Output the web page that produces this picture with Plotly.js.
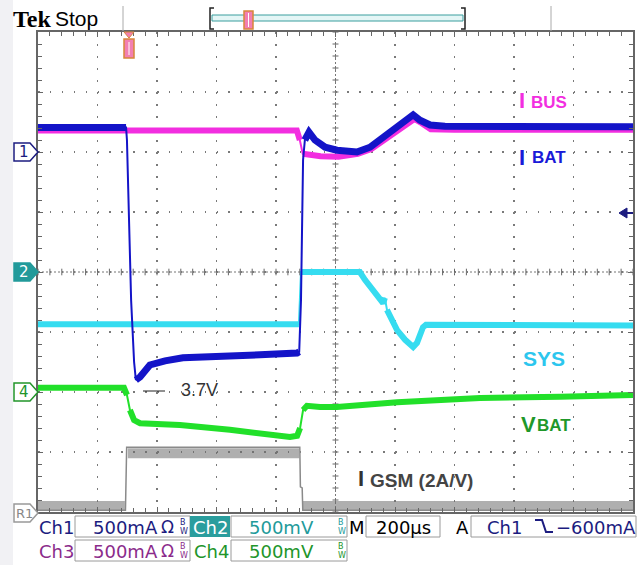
<!DOCTYPE html>
<html><head><meta charset="utf-8">
<script src="https://cdn.plot.ly/plotly-3.0.1.min.js"></script>
<style>html,body{margin:0;padding:0;background:#fff;} #chart{width:643px;height:565px;}</style>
</head><body><div id="chart"></div>
<script>
// ---- data: time in µs (200 µs/div), value in screen divisions ----
const tIbus = [0, 870, 880, 890, 950, 1010, 1075, 1120, 1185, 1240, 1265, 1290, 1320, 1400, 2000];
const ibus  = [2.36, 2.36, 2.2, 1.97, 1.93, 1.92, 1.97, 2.05, 2.28, 2.48, 2.55, 2.48, 2.38, 2.37, 2.37];

const tIbat = [0, 296, 299, 306, 313, 323, 329, 343, 376, 427, 487, 578, 655, 746, 871, 878, 884, 891, 897, 911, 931, 965, 1005, 1072, 1116, 1183, 1234, 1261, 1284, 1318, 1368, 2000];
const ibat  = [2.41, 2.41, 2.2, 0.6, -0.47, -1.5, -1.8, -1.75, -1.55, -1.48, -1.43, -1.42, -1.40, -1.38, -1.35, -1.33, -0.47, 1.87, 2.2, 2.33, 2.2, 2.08, 2.03, 2.0, 2.08, 2.33, 2.53, 2.62, 2.53, 2.45, 2.43, 2.42];

const tSys = [0, 877, 884, 1082, 1099, 1150, 1160, 1166, 1173, 1207, 1234, 1261, 1274, 1294, 1304, 2000];
const sys  = [-0.87, -0.87, 0.0, 0.0, -0.13, -0.47, -0.52, -0.43, -0.63, -0.97, -1.13, -1.25, -1.18, -0.92, -0.88, -0.89];

const tVbat = [0, 289, 299, 309, 323, 343, 477, 645, 746, 847, 871, 881, 891, 904, 948, 1005, 1207, 1486, 1755, 2000];
const vbat  = [-1.93, -1.93, -2.05, -2.3, -2.47, -2.52, -2.55, -2.63, -2.68, -2.75, -2.73, -2.6, -2.3, -2.23, -2.25, -2.25, -2.17, -2.1, -2.08, -2.05];

const tGsm = [0, 294, 298, 880, 882, 888, 890, 2000];
const gsm  = [-3.97, -3.97, -2.92, -2.92, -3.58, -3.6, -3.97, -3.97];
const tGsmNoise = [0, 292, null, 302, 878, null, 890, 2000];
const gsmNoise  = [-3.9, -3.9, null, -3.02, -3.02, null, -3.9, -3.9];

const statusRow1 = ["Ch1", "500mA", "Ch2", "500mV", "M", "200µs", "A", "Ch1", "−600mA"];
const statusRow2 = ["Ch3", "500mA", "Ch4", "500mV"];

// ---- geometry helpers ----
const W=643, H=565, L=38, T=32, PW=595, PH=480;
const fx = p => (p-L)/PW, fy = p => (T+PH-p)/PH;

function band(t, y){
  const bx=[], by=[];
  for(let i=0;i<t.length;i++){
    if(i>0){
      const dxp=(t[i]-t[i-1])/2000*PW, dyp=Math.abs(y[i]-y[i-1])*60;
      if(dyp > 2.5*dxp+4){ bx.push(null); by.push(null); }
    }
    bx.push(t[i]); by.push(y[i]);
  }
  return [bx, by];
}
function chan(t, y, color, bw){
  const [bx, by] = band(t, y);
  return [
    {x:bx, y:by, mode:'lines', line:{color:color, width:bw}, connectgaps:false, hoverinfo:'skip', showlegend:false},
    {x:t, y:y, mode:'lines', line:{color:color, width:2}, hoverinfo:'skip', showlegend:false}
  ];
}

const cMag='#f22ee0', cBlue='#1414c8', cCyan='#36dcf0', cGreen='#22e02a', cGray='#8a8a8a';

const traces = [
  {x:tGsmNoise, y:gsmNoise, mode:'lines', line:{color:'rgba(110,110,110,0.55)', width:10}, connectgaps:false, hoverinfo:'skip', showlegend:false},
  {x:tGsm, y:gsm, mode:'lines', line:{color:cGray, width:1.5}, hoverinfo:'skip', showlegend:false},
  ...chan(tVbat, vbat, cGreen, 6),
  ...chan(tSys, sys, cCyan, 6),
  ...chan(tIbus, ibus, cMag, 6),
  ...chan(tIbat, ibat, cBlue, 7)
];

// ---- shapes ----
const shapes = [];
const P = pts => 'M ' + pts.map(p => fx(p[0])+','+fy(p[1])).join(' L ') ;
function pshape(pts, fill, line, lw, close){
  shapes.push({type:'path', xref:'paper', yref:'paper', path:P(pts)+(close?' Z':''),
    fillcolor: fill||'rgba(0,0,0,0)', line:{color:line||'rgba(0,0,0,0)', width:lw||1}, layer:'above'});
}
function rect(x0,y0,x1,y1,fill,line,lw,layer){
  shapes.push({type:'rect', xref:'paper', yref:'paper', x0:fx(x0), x1:fx(x1), y0:fy(y1), y1:fy(y0),
    fillcolor:fill, line:{color:line||'rgba(0,0,0,0)', width:lw||0}, layer:layer||'above'});
}
// left grey strip
rect(0,0,13,565,'#f1f1f4',null,0,'below');
// center lines
shapes.push({type:'line', xref:'paper', yref:'y', x0:0, x1:1, y0:0, y1:0, line:{color:'#777', width:1, dash:'2px,2px'}, layer:'below'});
shapes.push({type:'line', xref:'x', yref:'paper', x0:1000, x1:1000, y0:0, y1:1, line:{color:'#777', width:1, dash:'2px,2px'}, layer:'below'});
for(let i=0;i<=50;i++){
  shapes.push({type:'line', xref:'x', yref:'y', x0:i*40, x1:i*40, y0:-0.055, y1:0.055, line:{color:'#666', width:1}, layer:'below'});
}
for(let j=0;j<=40;j++){
  const yy=-4+j*0.2;
  shapes.push({type:'line', xref:'x', yref:'y', x0:990, x1:1010, y0:yy, y1:yy, line:{color:'#666', width:1}, layer:'below'});
}
// channel markers
function marker(cy, fill, line){
  pshape([[14,cy-9],[30,cy-9],[38,cy],[30,cy+9],[14,cy+9]], fill, line, 1.5, true);
}
marker(152, '#ffffff', '#1c1c80');
marker(272, '#229a9a', '#229a9a');
marker(392, '#ffffff', '#22952a');
marker(513, '#ffffff', '#999999');
// trigger level arrow (right)
pshape([[619,213],[627,208],[627,218]], '#1c1c80', '#1c1c80', 1, true);
shapes.push({type:'line', xref:'paper', yref:'paper', x0:fx(626), x1:fx(633), y0:fy(213), y1:fy(213), line:{color:'#1c1c80', width:2}});
// top record bar
shapes.push({type:'line', xref:'paper', yref:'paper', x0:fx(123), x1:fx(123), y0:fy(31), y1:fy(6), line:{color:'#aaa', width:1}});
shapes.push({type:'line', xref:'paper', yref:'paper', x0:fx(551), x1:fx(551), y0:fy(31), y1:fy(6), line:{color:'#aaa', width:1}});
rect(212,15,463,21,'#e4f6f6','#3a9e9e',1);
pshape([[214,8],[210,8],[210,29],[214,29]], null, '#222', 1.5, false);
pshape([[461,8],[465,8],[465,29],[461,29]], null, '#222', 1.5, false);
rect(244,11,253,29,'#f27fb2','#d8873a',1.5);
shapes.push({type:'line', xref:'paper', yref:'paper', x0:fx(248.5), x1:fx(248.5), y0:fy(13), y1:fy(27), line:{color:'#ffffff', width:1}});
// trigger position marker on screen
pshape([[124,32],[134,32],[129,38]], '#f27fb2', '#d8873a', 1, true);
rect(124,39,134,58,'#f27fb2','#d8873a',1.5);
shapes.push({type:'line', xref:'paper', yref:'paper', x0:fx(129), x1:fx(129), y0:fy(42), y1:fy(55), line:{color:'#ffffff', width:1}});
// 3.7V dash
shapes.push({type:'line', xref:'paper', yref:'paper', x0:fx(143), x1:fx(165), y0:fy(391), y1:fy(391), line:{color:'#222', width:1}});
// status bar boxes
const bc='#9a9a9a';
rect(75,516,190,537,'#fff',bc,1);
rect(190,516,230,537,'#2a9d9d',null,0);
rect(231,516,347,537,'#fff',bc,1);
rect(366,516,440,537,'#fff',bc,1);
rect(471,516,636,537,'#fff',bc,1);
rect(75,540,190,561,'#fff',bc,1);
rect(231,540,347,561,'#fff',bc,1);
// falling-edge trigger symbol
pshape([[535,520],[542,520],[546,532],[553,532]], null, '#1c1c80', 2, false);

// ---- annotations ----
function A(text, x, y, size, color, fam, extra){
  return Object.assign({text:text, xref:'paper', yref:'paper', x:fx(x), y:fy(y), xanchor:'center', yanchor:'middle',
    showarrow:false, font:{family:fam||'Liberation Sans', size:size, color:color}}, extra||{});
}
const DV='DejaVu Sans';
const ann = [
  A('<b>Tek</b>', 32, 19, 24, '#000', 'Liberation Serif'),
  A('Stop', 76, 18, 21, '#000', 'Liberation Sans'),
  A('1', 24, 152, 15, '#1c1c80', DV),
  A('2', 24, 272, 15, '#ffffff', DV),
  A('4', 24, 392, 15, '#22952a', DV),
  A('R1', 24, 513, 13, '#888', DV),
  A('<b>I</b>', 521.5, 100, 22, cMag),
  A('<b>BUS</b>', 549, 102, 17, cMag),
  A('<b>I</b>', 522, 157, 22, '#1a1ad8'),
  A('<b>BAT</b>', 549, 158, 17, '#1a1ad8'),
  A('<b>SYS</b>', 544, 358, 21, '#2cc6ee'),
  A('<b>V</b>', 528.5, 424, 22, '#1f982a'),
  A('<b>BAT</b>', 554, 425, 17, '#1f982a'),
  A('<b>I</b>', 360.5, 478, 22, '#333'),
  A('<b>GSM (2A/V)</b>', 421, 480, 19, '#444'),
  A('3.7V', 199, 390, 18, '#333'),
  // status row 1
  A(statusRow1[0], 56, 527, 18, '#1c1c80', DV),
  A(statusRow1[1], 125, 527, 18, '#1c1c80', DV),
  A('Ω', 167, 527, 17, '#1c1c80', DV),
  A('B', 183, 522, 8, '#1c1c80', DV), A('W', 184, 531, 8, '#1c1c80', DV),
  A(statusRow1[2], 210, 527, 18, '#ffffff', DV),
  A(statusRow1[3], 281, 527, 18, '#229a9a', DV),
  A('B', 341, 522, 8, '#229a9a', DV), A('W', 342, 531, 8, '#229a9a', DV),
  A(statusRow1[4], 357, 527, 18, '#000', DV),
  A(statusRow1[5], 403, 527, 18, '#000', DV),
  A(statusRow1[6], 462, 527, 18, '#000', DV),
  A(statusRow1[7], 504, 527, 18, '#1c1c80', DV),
  A(statusRow1[8], 596, 527, 18, '#1c1c80', DV),
  // status row 2
  A(statusRow2[0], 56, 551, 18, '#8b2b8b', DV),
  A(statusRow2[1], 125, 551, 18, '#8b2b8b', DV),
  A('Ω', 167, 551, 17, '#8b2b8b', DV),
  A('B', 183, 546, 8, '#8b2b8b', DV), A('W', 184, 555, 8, '#8b2b8b', DV),
  A(statusRow2[2], 211, 551, 18, '#22952a', DV),
  A(statusRow2[3], 281, 551, 18, '#22952a', DV),
  A('B', 341, 546, 8, '#22952a', DV), A('W', 342, 555, 8, '#22952a', DV)
];

const axBase = {showticklabels:false, ticks:'inside', ticklen:5, tickcolor:'#666', tickwidth:1,
  showline:true, linecolor:'#666', linewidth:2, mirror:'ticks', showgrid:true, gridcolor:'#7a7a7a',
  gridwidth:1.5, zeroline:false, fixedrange:true};
const layout = {
  width:W, height:H, autosize:false,
  margin:{l:L, r:W-L-PW, t:T, b:H-T-PH, pad:0},
  paper_bgcolor:'#ffffff', plot_bgcolor:'#ffffff', showlegend:false,
  xaxis: Object.assign({}, axBase, {range:[0,2000], tick0:0, dtick:200, griddash:'1.5px,10.5px',
    minor:{dtick:40, ticks:'inside', ticklen:4, tickcolor:'#666', showgrid:false}}),
  yaxis: Object.assign({}, axBase, {range:[-4,4], tick0:0, dtick:1, griddash:'1.5px,10.4px',
    minor:{dtick:0.2, ticks:'inside', ticklen:4, tickcolor:'#666', showgrid:false}}),
  shapes: shapes,
  annotations: ann
};
Plotly.newPlot('chart', traces, layout, {staticPlot:true, displayModeBar:false});
</script></body></html>
